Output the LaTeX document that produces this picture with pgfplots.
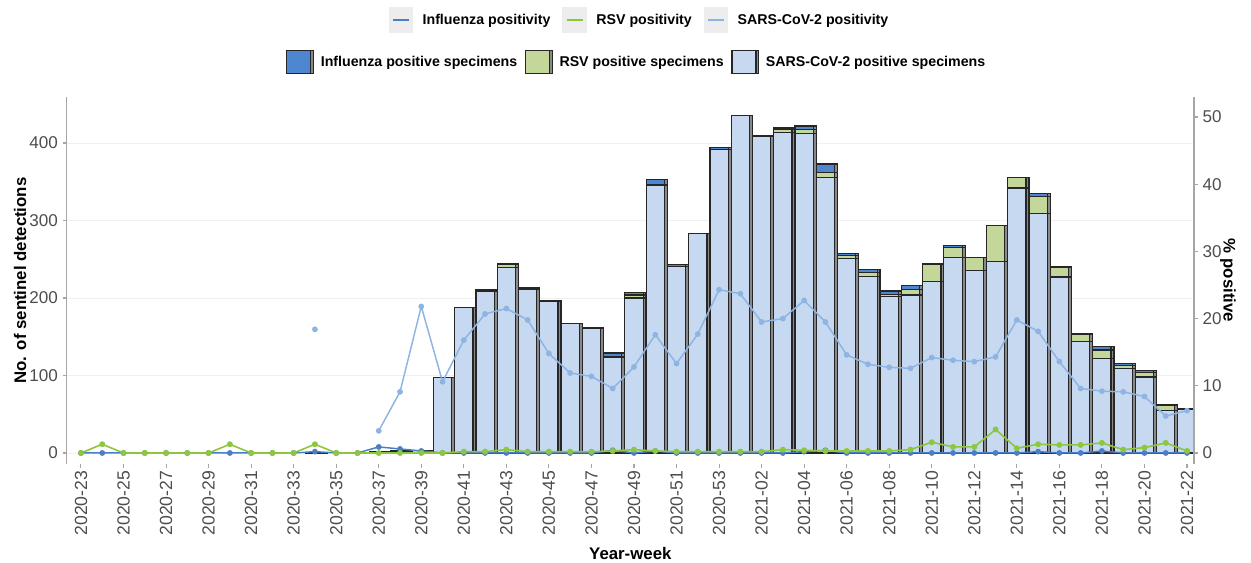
\documentclass[border=0pt]{standalone}
\usepackage{fontspec}
\setmainfont{Liberation Sans}
\usepackage{pgfplots}
\usepackage{pgfplotstable}
\pgfplotsset{compat=1.18}
\definecolor{sarsfill}{HTML}{C6D9F1}
\definecolor{rsvfill}{HTML}{C4D79B}
\definecolor{flufill}{HTML}{4F86D0}
\definecolor{flulin}{HTML}{4A7FC8}
\definecolor{rsvlin}{HTML}{8DC63F}
\definecolor{sarslin}{HTML}{8DB4E2}
\definecolor{tickgray}{HTML}{4D4D4D}
\definecolor{axgray}{HTML}{A6A6A6}
\definecolor{shadowgray}{HTML}{8A8A8A}
\definecolor{keybg}{HTML}{EDEDED}

% weekly positive specimens (x = week index, 0 = 2020-23)
\pgfplotstableread{
x sars rsv flu
11 1 0 0
14 1 0 1
15 2 0 1
16 3 0 0
17 97 0 0
18 188 0 0
19 209 0 2
20 239 4 2
21 211 0 2
22 195 0 2
23 167 0 0
24 161 0 1
25 124 1 4
26 200 4 3
27 345 1 7
28 241 0 2
29 283 0 0
30 392 0 2
31 436 0 0
32 408 0 2
33 414 4 2
34 412 5 5
35 356 6 11
36 251 4 2
37 228 5 4
38 202 3 4
39 204 7 5
40 221 23 0
41 252 13 3
42 236 16 0
43 247 47 0
44 342 13 1
45 309 22 4
46 227 13 0
47 144 9 1
48 122 11 4
49 109 4 2
50 98 6 2
51 55 6 2
52 56 0 1
}\bars

% weekly positivity (%)
\pgfplotstableread{
x flu rsv sars
0 0 0 nan
1 0 1.3 nan
2 0 0 nan
3 0 0 nan
4 0 0 nan
5 0 0 nan
6 0 0 nan
7 0 1.3 nan
8 0 0 nan
9 0 0 nan
10 0 0 nan
11 0.2 1.3 18.4
12 0 0 nan
13 0 0 nan
14 0.9 0 3.3
15 0.6 0 9.1
16 0.3 0 21.8
17 0 0 10.6
18 0 0.2 16.8
19 0 0.2 20.7
20 0 0.5 21.5
21 0 0.2 19.8
22 0 0.2 14.8
23 0 0.2 11.9
24 0 0.2 11.4
25 0.4 0.3 9.6
26 0 0.5 12.8
27 0.3 0.3 17.6
28 0 0.2 13.3
29 0 0.2 17.7
30 0 0.2 24.3
31 0 0.2 23.7
32 0 0.2 19.5
33 0 0.5 20.0
34 0.2 0.4 22.7
35 0.4 0.3 19.5
36 0 0.3 14.6
37 0 0.3 13.2
38 0 0.3 12.75
39 0 0.5 12.6
40 0 1.6 14.2
41 0 0.9 13.8
42 0 0.9 13.6
43 0 3.5 14.3
44 0 0.7 19.8
45 0.2 1.3 18.1
46 0 1.2 13.6
47 0 1.2 9.6
48 0.3 1.5 9.2
49 0 0.5 9.1
50 0 0.8 8.4
51 0 1.5 5.5
52 0 0.3 6.3
}\pos

\pgfplotsset{
  common/.style={
    scale only axis,
    width=845.5pt, height=275.25pt,
    at={(50pt,74.25pt)}, anchor=south west,
    xmin=-0.672, xmax=52.33,
    axis line style={axgray, line width=1pt},
    tick style={axgray, line width=0.8pt},
    major tick length=3pt,
    tick align=outside,
    /pgf/number format/assume math mode=true,
    yticklabel style={font=\fontsize{12.8pt}{14pt}\selectfont, text=tickgray},
    legend style={draw=none, fill=none, font=\bfseries\fontsize{10.65pt}{12pt}\selectfont,
      legend columns=3, cells={anchor=west},
      /tikz/every odd column/.append style={column sep=5pt}},
  }
}

\begin{document}
\begin{tikzpicture}
\useasboundingbox (0,0) rectangle (938.25pt,422.25pt);
% ---- bars: left axis ----
\begin{axis}[common,
  ymin=-14.2, ymax=459.4,
  ytick={0,100,200,300,400},
  axis y line*=left, axis x line*=bottom,
  x axis line style={draw=none},
  xtick={0,2,...,52},
  xticklabels={2020-23,2020-25,2020-27,2020-29,2020-31,2020-33,2020-35,2020-37,2020-39,2020-41,2020-43,2020-45,2020-47,2020-49,2020-51,2020-53,2021-02,2021-04,2021-06,2021-08,2021-10,2021-12,2021-14,2021-16,2021-18,2021-20,2021-22},
  xticklabel style={font=\fontsize{13.2pt}{14pt}\selectfont, text=tickgray, rotate=90, anchor=east, inner sep=2pt},
  ymajorgrids, grid style={black!6, line width=0.6pt},
  ylabel={\bfseries No. of sentinel detections},
  ylabel style={font=\fontsize{12.6pt}{14pt}\selectfont, at={(axis description cs:-0.0414,0.5)}, anchor=center},
  xlabel={\bfseries Year-week},
  xlabel style={font=\fontsize{12.6pt}{14pt}\selectfont, at={(axis description cs:0.5,-0.2425)}, anchor=center},
  ybar stacked, bar width=0.86,
  reverse legend,
  legend image code/.code={\draw[#1, line width=0.9pt] (0pt,-8.6pt) rectangle (18pt,8.6pt);},
  legend style={at={(axis description cs:0.506,1.0954)}, anchor=center,
    /tikz/every even column/.append style={column sep=3.75pt}},
]
\addplot+[ybar, fill=sarsfill, draw=black!85, line width=0.9pt,
  preaction={fill=shadowgray, transform canvas={xshift=2.2pt}}] table[x=x, y=sars]{\bars};
\addlegendentry{SARS-CoV-2 positive specimens}
\addplot+[ybar, fill=rsvfill, draw=black!85, line width=0.9pt,
  preaction={fill=shadowgray, transform canvas={xshift=2.2pt}}] table[x=x, y=rsv]{\bars};
\addlegendentry{RSV positive specimens}
\addplot+[ybar, fill=flufill, draw=black!85, line width=0.9pt,
  preaction={fill=shadowgray, transform canvas={xshift=2.2pt}}] table[x=x, y=flu]{\bars};
\addlegendentry{Influenza positive specimens}
\end{axis}
% ---- lines: right axis ----
\begin{axis}[common,
  ymin=-1.64, ymax=52.98,
  ytick={0,10,20,30,40,50},
  axis y line*=right, axis x line=none,
  ylabel={\bfseries \% positive},
  ylabel style={font=\fontsize{12.6pt}{14pt}\selectfont, at={(axis description cs:1.030,0.5)}, anchor=center, rotate=180},
  unbounded coords=jump,
  legend image code/.code={\fill[keybg] (0pt,-9pt) rectangle (17.25pt,9pt); \draw[#1, line width=1.8pt] (2.5pt,0pt) -- (14.75pt,0pt);},
  legend style={at={(axis description cs:0.5085,1.2098)}, anchor=center,
    /tikz/every even column/.append style={column sep=7pt}},
]
\addplot[flulin, line width=1.1pt, mark=*, mark size=1.6pt] table[x=x, y=flu]{\pos};
\addlegendentry{Influenza positivity}
\addplot[rsvlin, line width=1.2pt, mark=*, mark size=1.6pt] table[x=x, y=rsv]{\pos};
\addlegendentry{RSV positivity}
\addplot[sarslin, line width=1.1pt, mark=*, mark size=1.6pt] table[x=x, y=sars]{\pos};
\addlegendentry{SARS-CoV-2 positivity}
\end{axis}
\end{tikzpicture}
\end{document}
